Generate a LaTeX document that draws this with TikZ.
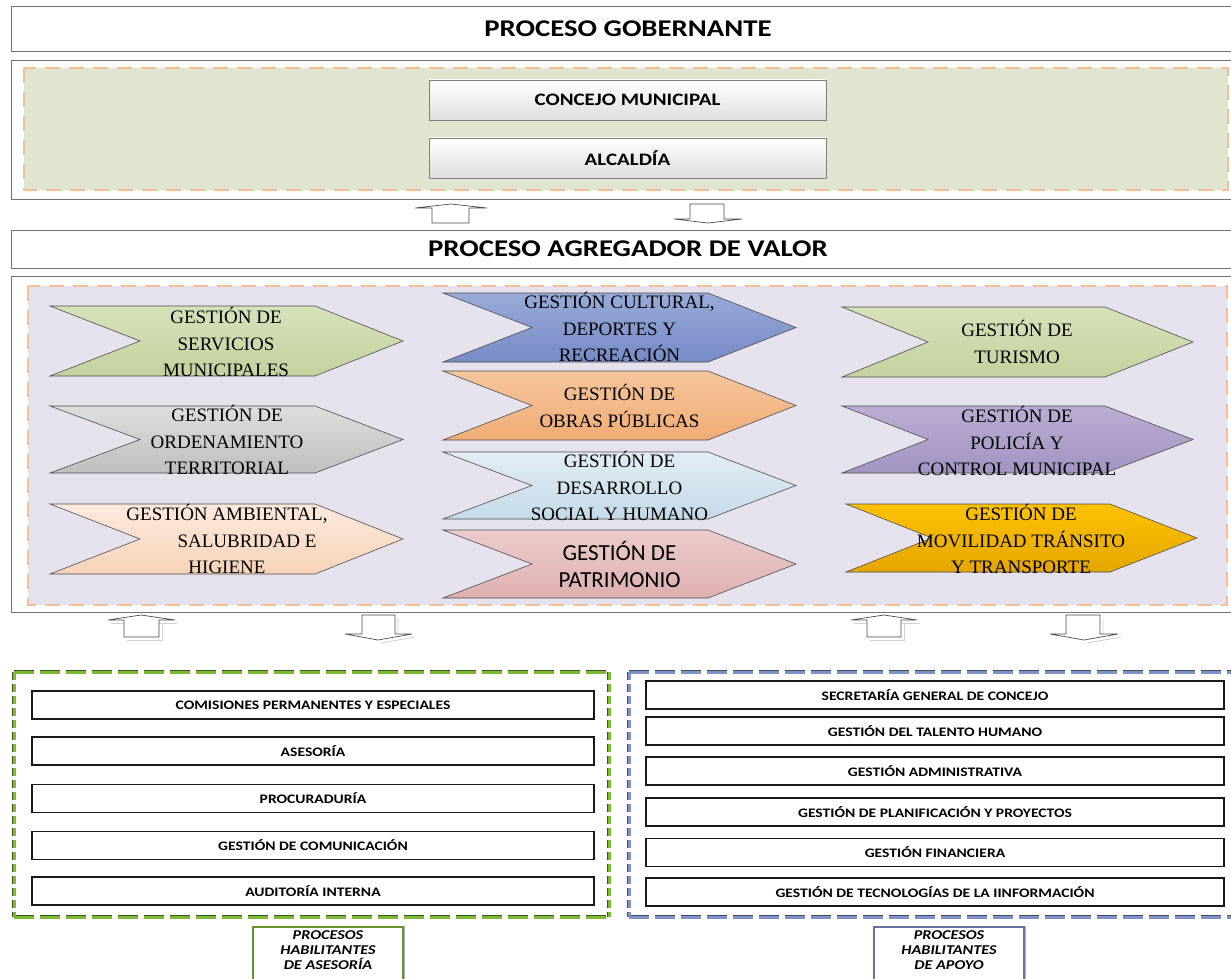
\documentclass[tikz,border=0pt]{standalone}
\usepackage{fontspec}
\setmainfont{Liberation Serif}
\newfontfamily\calfont[FakeStretch=1.2]{Carlito}
\newfontfamily\calplain{Carlito}
\usepackage{tikz}

\definecolor{govfill}{RGB}{223,229,207}
\definecolor{valfill}{RGB}{229,225,237}
\definecolor{orangedash}{RGB}{245,190,148}
\definecolor{greendash}{RGB}{124,186,54}
\definecolor{greenedge}{RGB}{62,88,36}
\definecolor{bluedash}{RGB}{126,146,200}
\definecolor{blueedge}{RGB}{68,76,98}

\begin{document}
\begin{tikzpicture}[x=1pt, y=-1pt,
    frame/.style={draw=black!55, line width=0.9pt},
    hdr/.style={frame, fill=white, minimum width=1234pt, font=\calfont\bfseries\fontsize{24}{28}\selectfont},
    govbox/.style={draw=black!50, line width=0.8pt, top color=white, bottom color=black!13, minimum width=397pt, minimum height=40pt, font=\calfont\bfseries\fontsize{17.5}{20}\selectfont},
    chev/.style={draw=black!70, line width=0.6pt},
    chevtext/.style={align=center, inner sep=0pt, font=\fontsize{19}{26.5}\selectfont},
    listbox/.style={draw=black!90, line width=1.4pt, fill=white, minimum height=28pt, font=\calfont\bfseries\fontsize{13}{15}\selectfont},
    blockarrow/.style={draw=black!70, fill=white, line width=0.7pt},
    shade/.style={draw=black!18, line width=0.9pt},
    tag/.style={align=center, inner sep=0pt, font=\calfont\bfseries\itshape\fontsize{13.5}{15}\selectfont}]

    \useasboundingbox (0,0) rectangle (1231,979);

    % gobernante
    \node [hdr, minimum height=45pt] (gob) at (628,28.5) {PROCESO GOBERNANTE};
    \draw [frame] (11,60) rectangle (1245,199);
    \draw [orangedash, line width=2pt, dash pattern=on 15pt off 9pt, fill=govfill] (24,68) rectangle (1228,190);
    \node [govbox] (concejo) at (627.5,100) {CONCEJO MUNICIPAL};
    \node [govbox] (alcaldia) at (627.5,158) {ALCALDÍA};

    % flechas superiores
    \draw [blockarrow] (415,208) -- (451,204) -- (487,208) -- (469,208) -- (469,223) -- (432,223) -- (432,208) -- cycle;
    \draw [blockarrow] (690,204) -- (724,204) -- (724,219) -- (742,219) -- (708,223) -- (674,219) -- (690,219) -- cycle;

    % agregador de valor
    \node [hdr, minimum height=38pt] (valor) at (628,249) {PROCESO AGREGADOR DE VALOR};
    \draw [frame] (11,276) rectangle (1245,612);
    \draw [orangedash, line width=2pt, dash pattern=on 15pt off 9pt, fill=valfill] (28,286) rectangle (1227,605);

    % columna izquierda
    \draw [chev, top color={rgb,255:red,214;green,225;blue,186}, bottom color={rgb,255:red,195;green,210;blue,158}]
        (50,306) -- (315,306) -- (403,341) -- (315,376) -- (50,376) -- (140,341) -- cycle;
    \draw [chev, top color={rgb,255:red,222;green,222;blue,222}, bottom color={rgb,255:red,190;green,190;blue,190}]
        (50,406) -- (315,406) -- (403,439.5) -- (315,473) -- (50,473) -- (140,439.5) -- cycle;
    \draw [chev, top color={rgb,255:red,252;green,234;blue,222}, bottom color={rgb,255:red,246;green,211;blue,184}]
        (50,504) -- (315,504) -- (403,539) -- (315,574) -- (50,574) -- (140,539) -- cycle;
    \node [chevtext] (servicios) at (226,342) {GESTIÓN DE\\SERVICIOS\\MUNICIPALES};
    \node [chevtext] (ordenamiento) at (227,440) {GESTIÓN DE\\ORDENAMIENTO\\TERRITORIAL};
    \node [chevtext] (ambiental) at (227,539) {GESTIÓN AMBIENTAL,\\\hspace*{40pt}SALUBRIDAD E\\HIGIENE};

    % columna central
    \draw [chev, top color={rgb,255:red,152;green,170;blue,216}, bottom color={rgb,255:red,118;green,138;blue,198}]
        (443,293) -- (708,293) -- (796,327.5) -- (708,362) -- (443,362) -- (532,327.5) -- cycle;
    \draw [chev, top color={rgb,255:red,245;green,197;blue,156}, bottom color={rgb,255:red,240;green,172;blue,118}]
        (443,371) -- (708,371) -- (796,405.5) -- (708,440) -- (443,440) -- (532,405.5) -- cycle;
    \draw [chev, top color={rgb,255:red,226;green,237;blue,245}, bottom color={rgb,255:red,196;green,218;blue,232}]
        (443,452) -- (708,452) -- (796,485.5) -- (708,519) -- (443,519) -- (532,485.5) -- cycle;
    \draw [chev, top color={rgb,255:red,236;green,203;blue,203}, bottom color={rgb,255:red,222;green,176;blue,176}]
        (443,530) -- (708,530) -- (796,564) -- (708,598) -- (443,598) -- (532,564) -- cycle;
    \node [chevtext] (cultural) at (619.5,327) {GESTIÓN CULTURAL,\\DEPORTES Y\\RECREACIÓN};
    \node [chevtext] (obras) at (619.5,406) {GESTIÓN DE\\OBRAS PÚBLICAS};
    \node [chevtext] (social) at (619.5,486) {GESTIÓN DE\\DESARROLLO\\SOCIAL Y HUMANO};
    \node [chevtext, font=\calplain\fontsize{23}{27}\selectfont] (patrimonio) at (619.5,564) {GESTIÓN DE\\PATRIMONIO};

    % columna derecha
    \draw [chev, top color={rgb,255:red,214;green,225;blue,186}, bottom color={rgb,255:red,195;green,210;blue,158}]
        (842,307) -- (1105,307) -- (1193,342) -- (1105,377) -- (842,377) -- (928,342) -- cycle;
    \draw [chev, top color={rgb,255:red,186;green,172;blue,210}, bottom color={rgb,255:red,162;green,148;blue,193}]
        (842,406) -- (1105,406) -- (1193,439.5) -- (1105,473) -- (842,473) -- (928,439.5) -- cycle;
    \draw [chev, top color={rgb,255:red,255;green,194;blue,0}, bottom color={rgb,255:red,228;green,166;blue,0}]
        (846,504) -- (1110,504) -- (1197,538) -- (1110,572) -- (846,572) -- (932,538) -- cycle;
    \node [chevtext] (turismo) at (1017,342) {GESTIÓN DE\\TURISMO};
    \node [chevtext] (policia) at (1017,441) {GESTIÓN DE\\POLICÍA Y\\CONTROL MUNICIPAL};
    \node [chevtext] (movilidad) at (1021,539) {GESTIÓN DE\\MOVILIDAD TRÁNSITO\\Y TRANSPORTE};

    % flechas inferiores
    \draw [shade] (111,623) -- (177,623) (162,623) -- (162,640) -- (127,640);
    \draw [blockarrow] (108,620) -- (141,615) -- (175,620) -- (159,620) -- (159,637) -- (124,637) -- (124,620) -- cycle;
    \draw [shade] (398,618) -- (398,637) (381,643) -- (415,637);
    \draw [blockarrow] (362,615) -- (395,615) -- (395,634) -- (412,634) -- (378,640) -- (345,634) -- (362,634) -- cycle;
    \draw [shade] (854,623) -- (920,623) (904,623) -- (904,640) -- (870,640);
    \draw [blockarrow] (851,620) -- (884,615) -- (917,620) -- (901,620) -- (901,637) -- (867,637) -- (867,620) -- cycle;
    \draw [shade] (1103,618) -- (1103,637) (1087,643) -- (1121,637);
    \draw [blockarrow] (1066,615) -- (1100,615) -- (1100,634) -- (1118,634) -- (1084,640) -- (1050,634) -- (1066,634) -- cycle;

    % habilitantes de asesoria
    \draw [greenedge, line width=4.5pt, dash pattern=on 20pt off 6pt] (14,672) -- (609,672) (14,917) -- (609,917);
    \draw [greendash, line width=3pt, dash pattern=on 20pt off 6pt] (14,672) -- (609,672) (14,917) -- (609,917);
    \draw [greenedge, line width=4.5pt, dash pattern=on 8pt off 4pt] (14,672) -- (14,917) (609,672) -- (609,917);
    \draw [greendash, line width=3pt, dash pattern=on 8pt off 4pt] (14,672) -- (14,917) (609,672) -- (609,917);
    \node [listbox, minimum width=562pt] (comisiones) at (313,705) {COMISIONES PERMANENTES Y ESPECIALES};
    \node [listbox, minimum width=562pt] (asesoria) at (313,751) {ASESORÍA};
    \node [listbox, minimum width=562pt] (procuraduria) at (313,798.5) {PROCURADURÍA};
    \node [listbox, minimum width=562pt] (comunicacion) at (313,845.5) {GESTIÓN DE COMUNICACIÓN};
    \node [listbox, minimum width=562pt] (auditoria) at (313,891) {AUDITORÍA INTERNA};

    % habilitantes de apoyo
    \draw [blueedge, line width=4.5pt, dash pattern=on 20pt off 6pt] (629,672) -- (1240,672) (629,917) -- (1240,917);
    \draw [bluedash, line width=3pt, dash pattern=on 20pt off 6pt] (629,672) -- (1240,672) (629,917) -- (1240,917);
    \draw [blueedge, line width=4.5pt, dash pattern=on 8pt off 4pt] (629,672) -- (629,917);
    \draw [bluedash, line width=3pt, dash pattern=on 8pt off 4pt] (629,672) -- (629,917);
    \node [listbox, minimum width=578pt] (secretaria) at (935,695) {SECRETARÍA GENERAL DE CONCEJO};
    \node [listbox, minimum width=578pt] (talento) at (935,731) {GESTIÓN DEL TALENTO HUMANO};
    \node [listbox, minimum width=578pt] (administrativa) at (935,771) {GESTIÓN ADMINISTRATIVA};
    \node [listbox, minimum width=578pt] (planificacion) at (935,812) {GESTIÓN DE PLANIFICACIÓN Y PROYECTOS};
    \node [listbox, minimum width=578pt] (financiera) at (935,852.5) {GESTIÓN FINANCIERA};
    \node [listbox, minimum width=578pt] (tecnologias) at (935,892) {GESTIÓN DE TECNOLOGÍAS DE LA IINFORMACIÓN};

    % etiquetas
    \draw [black!30, line width=3pt] (253,927) rectangle (403,990);
    \draw [greendash!80!black, line width=1.3pt, fill=white] (253,927) rectangle (403,990);
    \node [tag] (tagasesoria) at (328,950) {PROCESOS\\HABILITANTES\\DE ASESORÍA};
    \draw [black!30, line width=3pt] (874,927) rectangle (1024,990);
    \draw [bluedash!80!black, line width=1.3pt, fill=white] (874,927) rectangle (1024,990);
    \node [tag] (tagapoyo) at (949,950) {PROCESOS\\HABILITANTES\\DE APOYO};
\end{tikzpicture}
\end{document}
